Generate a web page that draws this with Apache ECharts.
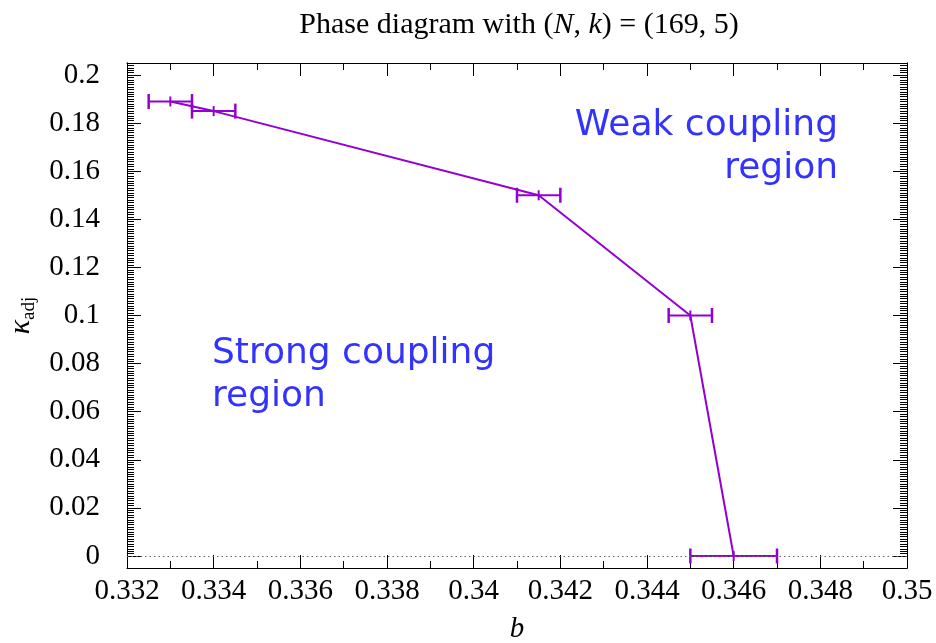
<!DOCTYPE html>
<html>
<head>
<meta charset="utf-8">
<script src="https://cdn.jsdelivr.net/npm/echarts@6/dist/echarts.min.js"></script>
<style>html,body{margin:0;padding:0;background:#fff}#c{width:936px;height:643px}</style>
</head>
<body>
<div id="c"></div>
<script>
// ---- data ----
const bVals     = [0.333, 0.334, 0.3415, 0.345, 0.346];
const kappaVals = [0.189, 0.185, 0.150, 0.100, 0.000];
const bLow      = [0.3325, 0.3335, 0.341, 0.3445, 0.345];
const bHigh     = [0.3335, 0.3345, 0.342, 0.3455, 0.347];
const yTicks    = [0, 0.02, 0.04, 0.06, 0.08, 0.1, 0.12, 0.14, 0.16, 0.18, 0.2];
const xMin = 0.332, xMax = 0.35, xStep = 0.002;
const yMin = -0.005, yMax = 0.205;

const yMinor = [];
for (let i = 0; i <= 205; i++) { if (i % 20 !== 0) yMinor.push(i / 1000); }

const lineData = bVals.map((b, i) => [b, kappaVals[i]]);
const errData = bVals.map((b, i) => [b, kappaVals[i], bLow[i], bHigh[i]]);

const COLOR = '#9400D3';
const serif = 'Liberation Serif';
const fmt = v => String(parseFloat(v.toFixed(4)));

const chart = echarts.init(document.getElementById('c'), null, {renderer: 'canvas'});

function yAxisDef(pos, ticks, len, labels) {
  return {
    type: 'value', position: pos, min: yMin, max: yMax,
    axisLine: {show: true, lineStyle: {color: '#000', width: 1}},
    axisTick: {show: true, inside: true, length: len, customValues: ticks, lineStyle: {color: '#000', width: 1}},
    axisLabel: labels ? {show: true, customValues: ticks, formatter: fmt, fontFamily: serif, fontSize: 29, color: '#000', margin: 27} : {show: false},
    splitLine: {show: false}
  };
}
function xAxisDef(pos, labels) {
  return {
    type: 'value', position: pos, min: xMin, max: xMax, interval: xStep,
    axisLine: {show: true, onZero: false, lineStyle: {color: '#000', width: 1}},
    axisTick: {show: true, inside: true, length: 13, lineStyle: {color: '#000', width: 1}},
    minorTick: {show: true, splitNumber: 2, length: 7, lineStyle: {color: '#000', width: 1}},
    axisLabel: labels ? {show: true, formatter: fmt, fontFamily: serif, fontSize: 29, color: '#000', margin: 9} : {show: false},
    splitLine: {show: false}, minorSplitLine: {show: false}
  };
}

const xBottom = xAxisDef('bottom', true);
xBottom.name = 'b';
xBottom.nameLocation = 'middle';
xBottom.nameGap = 47;
xBottom.nameTextStyle = {fontFamily: serif, fontStyle: 'italic', fontSize: 29, color: '#000'};

const yLeft = yAxisDef('left', yTicks, 14, true);
yLeft.name = '{k|κ}{s|adj}';
yLeft.nameLocation = 'middle';
yLeft.nameGap = 80;
yLeft.nameTextStyle = {
  color: '#000',
  rich: {
    k: {fontFamily: serif, fontStyle: 'italic', fontSize: 30, color: '#000'},
    s: {fontFamily: serif, fontSize: 19, color: '#000', padding: [16, 0, 0, 0]}
  }
};

chart.setOption({
  animation: false,
  backgroundColor: '#fff',
  title: {
    text: '{a|Phase diagram with (}{i|N}{a|, }{i|k}{a|) = (169, 5)}',
    left: 514, top: 5, textAlign: 'center',
    textStyle: {
      fontWeight: 'normal',
      rich: {
        a: {fontFamily: serif, fontSize: 30, fontWeight: 'normal', color: '#000'},
        i: {fontFamily: serif, fontSize: 30, fontWeight: 'normal', fontStyle: 'italic', color: '#000'}
      }
    }
  },
  grid: {left: 127, right: 29, top: 63, bottom: 75, outerBoundsMode: 'none', containLabel: false},
  xAxis: [xBottom, xAxisDef('top', false)],
  yAxis: [
    yLeft,
    yAxisDef('left', yMinor, 7, false),
    yAxisDef('right', yTicks, 14, false),
    yAxisDef('right', yMinor, 7, false)
  ],
  graphic: [
    {type: 'text', x: 838, y: 104, z: 10,
     style: {text: 'Weak coupling\nregion', align: 'right', verticalAlign: 'top', lineHeight: 43,
             font: '36px "DejaVu Sans"', fill: '#3333ff'}},
    {type: 'text', x: 212, y: 332, z: 10,
     style: {text: 'Strong coupling\nregion', align: 'left', verticalAlign: 'top', lineHeight: 43,
             font: '36px "DejaVu Sans"', fill: '#3333ff'}}
  ],
  series: [
    {
      type: 'line', xAxisIndex: 0, yAxisIndex: 0, data: lineData,
      showSymbol: false, symbol: 'none',
      lineStyle: {color: COLOR, width: 2},
      markLine: {
        silent: true, symbol: 'none', label: {show: false},
        lineStyle: {color: '#666', type: [1.5, 3], width: 1.2},
        data: [{yAxis: 0}]
      },
      z: 3
    },
    {
      type: 'custom', xAxisIndex: 0, yAxisIndex: 0, data: errData,
      encode: {x: [0, 2, 3], y: 1},
      renderItem: function (params, api) {
        const c = api.coord([api.value(0), api.value(1)]);
        const lo = api.coord([api.value(2), api.value(1)]);
        const hi = api.coord([api.value(3), api.value(1)]);
        const y = c[1], cap = 7.5, ct = 5;
        const st = {stroke: COLOR, lineWidth: 2};
        return {type: 'group', children: [
          {type: 'line', shape: {x1: lo[0], y1: y, x2: hi[0], y2: y}, style: st},
          {type: 'line', shape: {x1: lo[0], y1: y - cap, x2: lo[0], y2: y + cap}, style: {stroke: COLOR, lineWidth: 2.5}},
          {type: 'line', shape: {x1: hi[0], y1: y - cap, x2: hi[0], y2: y + cap}, style: {stroke: COLOR, lineWidth: 2.5}},
          {type: 'line', shape: {x1: c[0], y1: y - ct, x2: c[0], y2: y + ct}, style: st}
        ]};
      },
      z: 4
    }
  ]
});
</script>
</body>
</html>
